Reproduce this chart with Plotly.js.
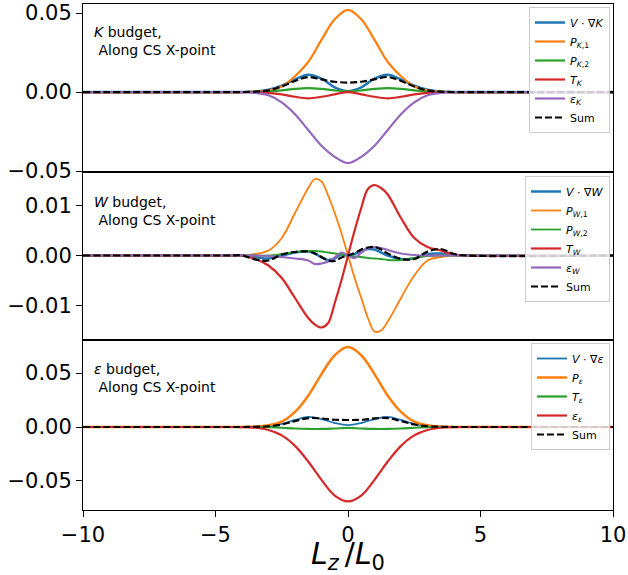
<!DOCTYPE html>
<html>
<head>
<meta charset="utf-8">
<script src="https://cdn.plot.ly/plotly-3.0.1.min.js"></script>
<style>html,body{margin:0;padding:0;background:#fff;}#chart{width:628px;height:575px;}</style>
</head>
<body>
<div id="chart"></div>
<script>
// ---------- data ----------
var xs = [-10, -4.5, -4, -3.5, -3, -2.5, -2, -1.5, -1, -0.5, 0, 0.5, 1, 1.5, 2, 2.5, 3, 3.5, 4, 4.5, 10];
var xs2 = [-10, -4.5, -4, -3.5, -3, -2.5, -2, -1.5, -1.25, -1, -0.75, -0.5, -0.25, 0, 0.25, 0.5, 0.75, 1, 1.25, 1.5, 2, 2.5, 3, 3.5, 4, 4.5, 10];

// K budget
var kAdv   = [0, 0, 0, 0.0003, 0.0015, 0.004, 0.008, 0.011, 0.0085, 0.003, 0.0005, 0.003, 0.0085, 0.011, 0.008, 0.004, 0.0015, 0.0003, 0, 0, 0];
var kP1    = [0, 0, 0, 0.0002, 0.001, 0.0035, 0.010, 0.019, 0.033, 0.046, 0.052, 0.046, 0.033, 0.019, 0.010, 0.0035, 0.001, 0.0002, 0, 0, 0];
var kP2    = [0, 0, 0, 0, 0.0003, 0.001, 0.002, 0.0025, 0.002, 0.001, 0.0005, 0.001, 0.002, 0.0025, 0.002, 0.001, 0.0003, 0, 0, 0, 0];
var kT     = [0, 0, 0, 0, -0.0005, -0.0015, -0.003, -0.004, -0.003, -0.0015, 0.0, -0.0015, -0.003, -0.004, -0.003, -0.0015, -0.0005, 0, 0, 0, 0];
var kEps   = [0, 0, 0, -0.0005, -0.002, -0.0065, -0.014, -0.024, -0.034, -0.041, -0.045, -0.041, -0.034, -0.024, -0.014, -0.0065, -0.002, -0.0005, 0, 0, 0];
var kSum   = [0, 0, 0, 0.0002, 0.001, 0.0035, 0.007, 0.0095, 0.008, 0.0065, 0.006, 0.0065, 0.008, 0.0095, 0.007, 0.0035, 0.001, 0.0002, 0, 0, 0];

// W budget
var wAdv   = [0, 0, 0, -0.0003, -0.0006, 0.0, 0.0006, 0.0008, 0.0004, -0.0004, -0.0009, -0.0006, 0.0002, 0, 0.0003, 0.0009, 0.0013, 0.0012, 0.0006, 0.0, -0.0007, -0.0006, 0.0003, 0.0004, 0.0001, 0, 0];
var wP1    = [0, 0, 0, 0.0003, 0.001, 0.0035, 0.0085, 0.0135, 0.0153, 0.0148, 0.012, 0.0085, 0.0045, 0, -0.0045, -0.0085, -0.0125, -0.0152, -0.015, -0.0132, -0.0085, -0.004, -0.001, -0.0003, 0, 0, 0];
var wP2    = [0, 0, 0, 0, 0, 0.0003, 0.0007, 0.0009, 0.0009, 0.0008, 0.0006, 0.0004, 0.0002, 0, -0.0002, -0.0003, -0.0005, -0.0006, -0.0007, -0.0009, -0.0009, -0.0005, -0.0001, 0, 0, 0, 0];
var wT     = [0, 0, 0, -0.0007, -0.002, -0.0045, -0.0085, -0.0125, -0.0138, -0.0144, -0.0135, -0.0095, -0.005, 0, 0.005, 0.0095, 0.0133, 0.0141, 0.0135, 0.0122, 0.0075, 0.0035, 0.0017, 0.001, 0.0002, 0, 0];
var wEps   = [0, 0, 0, 0, -0.0001, -0.0003, -0.0006, -0.001, -0.0017, -0.0016, -0.0012, -0.0004, 0.0006, 0, -0.0005, 0.0006, 0.0014, 0.0017, 0.0015, 0.0011, 0.0004, 0.0001, 0, 0, 0, 0, 0];
var wSum   = [0, 0, 0, -0.0008, -0.001, 0.0002, 0.0007, 0.0008, 0.0004, -0.0003, -0.0010, -0.0011, -0.0004, 0, 0.0005, 0.0012, 0.0016, 0.0017, 0.0012, 0.0004, -0.0007, -0.0007, 0.0008, 0.0013, 0.0003, 0, 0];

// epsilon budget
var eAdv   = [0, 0, 0, 0.0002, 0.0009, 0.0028, 0.0065, 0.0093, 0.0074, 0.0037, 0.0018, 0.0037, 0.0074, 0.0093, 0.0065, 0.0028, 0.0009, 0.0002, 0, 0, 0];
var eP     = [0, 0, 0, 0.0004, 0.0017, 0.005, 0.014, 0.029, 0.049, 0.0665, 0.074, 0.0665, 0.049, 0.029, 0.014, 0.005, 0.0017, 0.0004, 0, 0, 0];
var eT     = [0, 0, 0, 0, -0.0002, -0.0007, -0.0014, -0.0018, -0.0018, -0.0014, -0.0009, -0.0014, -0.0018, -0.0018, -0.0014, -0.0007, -0.0002, 0, 0, 0, 0];
var eEps   = [0, 0, -0.0001, -0.0007, -0.0028, -0.0078, -0.0175, -0.032, -0.049, -0.0635, -0.069, -0.0635, -0.049, -0.032, -0.0175, -0.0078, -0.0028, -0.0007, -0.0001, 0, 0];
var eSum   = [0, 0, 0, 0.0002, 0.0007, 0.0023, 0.0055, 0.0083, 0.0079, 0.0067, 0.0065, 0.0067, 0.0079, 0.0083, 0.0055, 0.0023, 0.0007, 0.0002, 0, 0, 0];

var kNames = ['<i>V</i> · ∇<i>K</i>', '<i>P</i><sub><i>K</i>,1</sub>', '<i>P</i><sub><i>K</i>,2</sub>', '<i>T</i><sub><i>K</i></sub>', '<i>ε</i><sub><i>K</i></sub>', 'Sum'];
var wNames = ['<i>V</i> · ∇<i>W</i>', '<i>P</i><sub><i>W</i>,1</sub>', '<i>P</i><sub><i>W</i>,2</sub>', '<i>T</i><sub><i>W</i></sub>', '<i>ε</i><sub><i>W</i></sub>', 'Sum'];
var eNames = ['<i>V</i> · ∇<i>ε</i>', '<i>P</i><sub><i>ε</i></sub>', '<i>T</i><sub><i>ε</i></sub>', '<i>ε</i><sub><i>ε</i></sub>', 'Sum'];

var xTicks = [-10, -5, 0, 5, 10];
var yTicks1 = [-0.05, 0.00, 0.05];
var yTicks2 = [-0.01, 0.00, 0.01];
var yTicks3 = [-0.05, 0.00, 0.05];

// ---------- styling ----------
var C = {blue: '#1f77b4', orange: '#ff7f0e', green: '#2ca02c', red: '#d62728', purple: '#9467bd', black: '#000000'};
var FONT = 'DejaVu Sans, sans-serif';

function tr(x, y, name, color, xa, ya, leg, width, dash) {
  return {
    x: x, y: y, name: name, type: 'scatter', mode: 'lines',
    line: {color: color, width: width || 2.2, dash: dash || 'solid', shape: 'spline', smoothing: 1},
    xaxis: xa, yaxis: ya, legend: leg, hoverinfo: 'skip'
  };
}

var data = [
  tr(xs, kAdv, kNames[0], C.blue, 'x', 'y', 'legend', 2.5),
  tr(xs, kP1, kNames[1], C.orange, 'x', 'y', 'legend', 2.2),
  tr(xs, kP2, kNames[2], C.green, 'x', 'y', 'legend', 2.2),
  tr(xs, kT, kNames[3], C.red, 'x', 'y', 'legend', 2.2),
  tr(xs, kEps, kNames[4], C.purple, 'x', 'y', 'legend', 2.2),
  tr(xs, kSum, kNames[5], C.black, 'x', 'y', 'legend', 2.2, '7px,3px'),

  tr(xs2, wAdv, wNames[0], C.blue, 'x2', 'y2', 'legend2', 2.5),
  tr(xs2, wP1, wNames[1], C.orange, 'x2', 'y2', 'legend2', 1.8),
  tr(xs2, wP2, wNames[2], C.green, 'x2', 'y2', 'legend2', 1.8),
  tr(xs2, wT, wNames[3], C.red, 'x2', 'y2', 'legend2', 2.2),
  tr(xs2, wEps, wNames[4], C.purple, 'x2', 'y2', 'legend2', 2.2),
  tr(xs2, wSum, wNames[5], C.black, 'x2', 'y2', 'legend2', 2.2, '7px,3px'),

  tr(xs, eAdv, eNames[0], C.blue, 'x3', 'y3', 'legend3', 1.8),
  tr(xs, eP, eNames[1], C.orange, 'x3', 'y3', 'legend3', 2.5),
  tr(xs, eT, eNames[2], C.green, 'x3', 'y3', 'legend3', 2.2),
  tr(xs, eEps, eNames[3], C.red, 'x3', 'y3', 'legend3', 2.2),
  tr(xs, eSum, eNames[4], C.black, 'x3', 'y3', 'legend3', 2.2, '7px,3px')
];

var W = 628, H = 575;
var xdom = [83 / W, 613 / W];
function yd(top, bot) { return [1 - bot / H, 1 - top / H]; }

function xax(showLabels, anchor) {
  var a = {
    domain: xdom, range: [-10, 10], anchor: anchor,
    showline: true, linecolor: '#000', linewidth: 1, mirror: true,
    showgrid: false, zeroline: false,
    tickvals: xTicks, ticktext: xTicks.map(function (v) { return v < 0 ? '\u2212' + Math.abs(v) : String(v); }),
    ticks: showLabels ? 'outside' : '', ticklen: 6, tickwidth: 1, tickcolor: '#000',
    showticklabels: showLabels, tickfont: {family: FONT, size: 21, color: '#000'},
    automargin: false
  };
  return a;
}
function yax(dom, rng, tv, anchor) {
  return {
    domain: dom, range: rng, anchor: anchor,
    showline: true, linecolor: '#000', linewidth: 1, mirror: true,
    showgrid: false, zeroline: false,
    tickvals: tv, ticktext: tv.map(function (v) { var s = Math.abs(v).toFixed(2); return v < 0 ? '\u2212' + s : s; }),
    ticks: 'outside', ticklen: 6, tickwidth: 1, tickcolor: '#000',
    tickfont: {family: FONT, size: 21, color: '#000'},
    automargin: false
  };
}

function leg(top) {
  return {
    x: 610 / W, y: 1 - top / H, xanchor: 'right', yanchor: 'top',
    bgcolor: 'rgba(255,255,255,0.8)', bordercolor: '#cccccc', borderwidth: 1,
    font: {family: FONT, size: 11, color: '#000'},
    itemwidth: 30, tracegroupgap: 0, itemclick: false
  };
}

var layout = {
  width: W, height: H,
  margin: {l: 0, r: 0, t: 0, b: 0},
  paper_bgcolor: '#fff', plot_bgcolor: '#fff',
  showlegend: true,
  font: {family: FONT, color: '#000'},
  xaxis: xax(false, 'y'),
  xaxis2: xax(false, 'y2'),
  xaxis3: (function () {
    var a = xax(true, 'y3');
    a.title = {text: '<i>L</i><sub><i>z</i></sub>\u2009/<i>L</i><sub>0</sub>', font: {family: FONT, size: 30, color: '#000'}, standoff: 0};
    return a;
  })(),
  yaxis: yax(yd(4, 172), [-0.0506, 0.0557], yTicks1, 'x'),
  yaxis2: yax(yd(172, 340), [-0.0169, 0.0167], yTicks2, 'x2'),
  yaxis3: yax(yd(340, 510), [-0.0769, 0.0806], yTicks3, 'x3'),
  legend: leg(7),
  legend2: leg(176),
  legend3: leg(343),
  annotations: [
    {xref: 'paper', yref: 'paper', x: 92 / W, y: 1 - 41 / H, xanchor: 'left', yanchor: 'middle', align: 'left', showarrow: false,
     text: '<i>K</i> budget,<br>\u00a0Along CS X-point', font: {family: FONT, size: 14, color: '#000'}},
    {xref: 'paper', yref: 'paper', x: 92 / W, y: 1 - 211 / H, xanchor: 'left', yanchor: 'middle', align: 'left', showarrow: false,
     text: '<i>W</i> budget,<br>\u00a0Along CS X-point', font: {family: FONT, size: 14, color: '#000'}},
    {xref: 'paper', yref: 'paper', x: 92 / W, y: 1 - 378 / H, xanchor: 'left', yanchor: 'middle', align: 'left', showarrow: false,
     text: '<i>ε</i> budget,<br>\u00a0Along CS X-point', font: {family: FONT, size: 14, color: '#000'}}
  ]
};

Plotly.newPlot('chart', data, layout, {staticPlot: true, displayModeBar: false});
</script>
</body>
</html>
